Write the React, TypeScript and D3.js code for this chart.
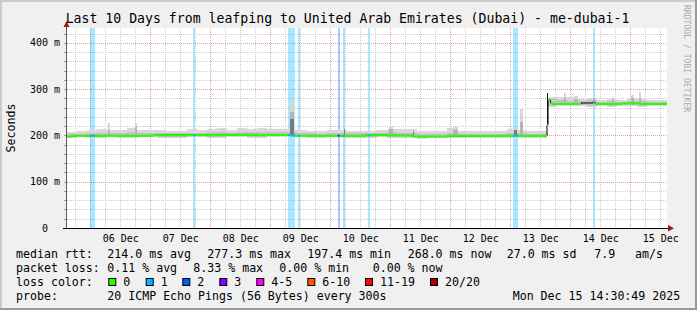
import React from 'react';
import * as d3 from 'd3';

// ---------- data ----------
const startMs = Date.UTC(2025, 11, 5, 14, 30, 49);
const endMs = Date.UTC(2025, 11, 15, 14, 30, 49);

const dayLabels = ['06 Dec', '07 Dec', '08 Dec', '09 Dec', '10 Dec', '11 Dec', '12 Dec', '13 Dec', '14 Dec', '15 Dec'];
const yTickValues = [0, 100, 200, 300, 400];
const yTickLabels = ['0', '100 m', '200 m', '300 m', '400 m'];

// smoke envelope, one value per 4 hours (60 steps)
const smokeStepHours = 4;
const smokeLo = [195, 196, 195, 195, 196, 195, 195, 196, 196, 195, 195, 195, 196, 196, 195, 195, 196, 196, 195, 195, 196, 196, 196, 196, 195, 195, 196, 195, 195, 195, 195, 196, 195, 195, 194, 193, 194, 194, 195, 195, 194, 194, 195, 195, 195, 195, 194, 194,
  262, 263, 263, 263, 262, 263, 262, 263, 263, 262, 263, 263];
const smokeMid = [204, 204, 205, 206, 206, 205, 207, 205, 206, 206, 205, 205, 206, 206, 207, 208, 206, 207, 207, 207, 207, 207, 207, 205, 205, 204, 205, 206, 205, 205, 205, 206, 207, 206, 206, 204, 204, 204, 206, 204, 204, 204, 204, 204, 205, 206, 204, 204,
  274, 276, 275, 274, 276, 273, 274, 273, 275, 274, 273, 273];
const smokeHi = [208, 210, 211, 214, 211, 211, 216, 212, 212, 212, 210, 209, 213, 211, 214, 216, 212, 215, 214, 216, 214, 214, 213, 211, 210, 209, 212, 212, 210, 210, 210, 212, 214, 213, 214, 210, 209, 209, 215, 210, 209, 209, 209, 210, 213, 211, 209, 209,
  280, 283, 282, 278, 280, 276, 278, 277, 280, 278, 277, 277];

// smoke spikes (hours from start, duration in hours, light top, mid top, dark top)
const spikeHours = [16.4, 27.2, 89.0, 110.6, 128.8, 138.2, 154.4, 178.8, 181.2, 192.0, 192.8, 198.6, 202.8, 210.4, 218.0, 225.6, 228.8];
const spikeDur = [0.6, 0.8, 1.6, 0.6, 1.6, 0.6, 2.0, 1.2, 1.2, 0.4, 3.2, 0.8, 1.6, 0.6, 0.8, 1.0, 0.8];
const spikeTop = [226, 226, 276, 216, 220, 210, 219, 215, 258, 291, 283, 291, 285, 287, 283, 287, 294];
const spikeMidTop = [212, 218, 250, 214, 214, 210, 212, 212, 229, 291, 278, 280, 279, 280, 277, 280, 280];
const spikeDarkTop = [0, 0, 235, 214, 0, 210, 0, 212, 0, 291, 0, 0, 0, 0, 0, 0, 0];

// median rtt (step), loss code: 0 green, -1 no colour
const medianHours = [0, 2, 34.8, 62, 76.4, 89.2, 109.2, 119.2, 128.4, 138.4, 152, 163.2, 171.2, 192, 192.4, 193.4, 194, 205.6, 210.4, 211.2, 222, 229.2, 240];
const medianValues = [197.5, 199.5, 200.5, 201.5, 201, 199.5, 199.5, 200.5, 200, 197.5, 199, 198.5, 199.5, 222, 277, 270, 268, 270, 272, 268, 269, 268, 268];
const medianLoss = [0, 0, 0, 0, 0, 0, 0, 0, 0, 0, 0, 0, 0, 0, 0, 0, 0, -1, 1, 0, 0, 0, 0];

// packet-loss periods
const lossStartHours = [9.2, 50.4, 88.4, 92.4, 108.2, 110.4, 120.4, 178.4, 210.4];
const lossEndHours = [11.2, 51.2, 91.2, 93.2, 109.2, 111.2, 121.2, 180.4, 211.2];
const lossLevel = [1, 1, 1, 1, 2, 1, 1, 1, 1];

const lossColors = ['#26ff00', '#00b8ff', '#0059ff', '#7e00ff', '#ff00ff', '#ff5500', '#ff0000', '#a10000'];
const lossLabels = ['0', '1', '2', '3', '4-5', '6-10', '11-19', '20/20'];

const rttItems = ['214.0 ms avg', '277.3 ms max', '197.4 ms min', '268.0 ms now', '27.0 ms sd', '7.9', 'am/s'];
const lossItems = ['0.11 % avg', '8.33 % max', '0.00 % min', '0.00 % now'];
const probeText = '20 ICMP Echo Pings (56 Bytes) every 300s';
const dateText = 'Mon Dec 15 14:30:49 2025';
const titleText = 'Last 10 Days from leafping to United Arab Emirates (Dubai) - me-dubai-1';

// ---------- layout ----------
const W = 697, H = 310;
const L = 67, R = 667, T = 28, B = 228;
const rttX = [107.3, 207.3, 307.3, 407.7, 506.7, 594.3, 635];
const lossX = [107.3, 193.3, 279.3, 372.7];
const boxX = [108.3, 145.7, 182.3, 219.3, 256.3, 307.3, 365, 430];
const MONO = '"DejaVu Sans Mono", monospace';

export default function App() {
  const x = d3.scaleUtc().domain([new Date(startMs), new Date(endMs)]).range([L, R]);
  const hx = (h: number) => x(new Date(startMs + h * 3600e3));
  const y = d3.scaleLinear().domain([0, 432]).range([B, T]);
  const crispY = (v: number) => Math.round(v) + 0.5;
  const crispX = (v: number) => Math.floor(v) + 0.5;

  const medianAt = (h: number) => {
    const i = Math.max(0, d3.bisectRight(medianHours, h) - 1);
    return medianValues[i];
  };

  // grid
  const minorH = d3.range(20, 432, 20).filter((v) => v % 100 !== 0);
  const majorH = [100, 200, 300, 400];
  const vTimes = d3.utcHour.every(6)!.range(new Date(startMs), new Date(endMs));
  const labelTimes = d3.utcDay.range(new Date(startMs), new Date(endMs)).map((d) => new Date(d.getTime() + 12 * 3600e3));

  // smoke
  const smokeIdx = d3.range(smokeHi.length + 1);
  const sv = (arr: number[], i: number) => arr[Math.min(i, arr.length - 1)];
  const outerArea = d3.area<number>()
    .x((i) => hx(i * smokeStepHours))
    .y0((i) => y(sv(smokeLo, i)))
    .y1((i) => y(sv(smokeHi, i)))
    .curve(d3.curveStepAfter);
  const midArea = d3.area<number>()
    .x((i) => hx(i * smokeStepHours))
    .y0((i) => y(sv(smokeLo, i) + 2))
    .y1((i) => y(sv(smokeMid, i)))
    .curve(d3.curveStepAfter);

  // median lines
  const medIdx = d3.range(medianHours.length);
  const blackLine = d3.line<number>()
    .x((i) => hx(medianHours[i]))
    .y((i) => y(medianValues[i]))
    .curve(d3.curveStepAfter);
  const greenSegs: string[] = [];
  for (let i = 0; i < medianHours.length - 1; i++) {
    if (medianLoss[i] === 0) {
      greenSegs.push(`M${hx(medianHours[i])},${y(medianValues[i])}H${hx(medianHours[i + 1])}`);
      if (medianLoss[i + 1] === 0 && i + 1 < medianHours.length - 1 && Math.abs(medianValues[i + 1] - medianValues[i]) < 5) {
        greenSegs.push(`M${hx(medianHours[i + 1])},${y(medianValues[i])}V${y(medianValues[i + 1])}`);
      }
    }
  }

  return (
    <svg width={W} height={H} style={{ position: 'fixed', left: 0, top: 0 }} xmlns="http://www.w3.org/2000/svg">
      <rect x={0} y={0} width={W} height={H} fill="#f0f0f0" />
      <rect x={0} y={0} width={W} height={2} fill="#cbcbcb" />
      <rect x={0} y={0} width={2} height={H} fill="#cbcbcb" />
      <rect x={0} y={H - 2} width={W} height={2} fill="#999999" />
      <rect x={W - 2} y={0} width={2} height={H} fill="#999999" />

      <rect x={L} y={T} width={R - L} height={B - T} fill="#ffffff" />

      {/* grid */}
      <g shapeRendering="crispEdges">
        {minorH.map((v) => (
          <line key={'mh' + v} x1={L} x2={R} y1={crispY(y(v))} y2={crispY(y(v))} stroke="#cdcdcd" strokeDasharray="1,1" />
        ))}
        {vTimes.filter((d) => d.getUTCHours() !== 0).map((d) => (
          <line key={'mv' + d.getTime()} x1={crispX(x(d))} x2={crispX(x(d))} y1={T} y2={B} stroke="#cdcdcd" strokeDasharray="1,1" />
        ))}
        {majorH.map((v) => (
          <line key={'Mh' + v} x1={L} x2={R} y1={crispY(y(v))} y2={crispY(y(v))} stroke="#e0a4a4" strokeDasharray="1,1" />
        ))}
        {vTimes.filter((d) => d.getUTCHours() === 0).map((d) => (
          <line key={'Mv' + d.getTime()} x1={crispX(x(d))} x2={crispX(x(d))} y1={T} y2={B} stroke="#e0a4a4" strokeDasharray="1,1" />
        ))}
      </g>

      {/* loss bars */}
      <g shapeRendering="crispEdges">
        {lossStartHours.map((s, i) => (
          <rect key={'lb' + i} x={hx(s)} y={T} width={hx(lossEndHours[i]) - hx(s)} height={B - T}
            fill={lossColors[lossLevel[i]]} fillOpacity={0.333} />
        ))}
      </g>

      {/* smoke */}
      <path d={outerArea(smokeIdx)!} fill="#d8d8d8" shapeRendering="crispEdges" />
      <path d={midArea(smokeIdx)!} fill="#c2c2c2" shapeRendering="crispEdges" />
      <g shapeRendering="crispEdges">
        {spikeHours.map((h, i) => {
          const x0 = hx(h);
          const w = Math.max(1, hx(h + spikeDur[i]) - x0);
          const base = medianAt(h);
          return (
            <g key={'sp' + i}>
              <rect x={x0} y={y(spikeTop[i])} width={w} height={y(base) - y(spikeTop[i])} fill="#d6d6d6" />
              <rect x={x0} y={y(spikeMidTop[i])} width={w} height={Math.max(0, y(base) - y(spikeMidTop[i]))} fill="#b4b4b4" />
              {spikeDarkTop[i] > 0 && (
                <rect x={x0} y={y(spikeDarkTop[i])} width={w} height={Math.max(0, y(base) - y(spikeDarkTop[i]))}
                  fill={spikeDarkTop[i] > 280 ? '#1a1a1a' : '#7a7a7a'} />
              )}
            </g>
          );
        })}
      </g>

      {/* median */}
      <path d={blackLine(medIdx)!} fill="none" stroke="#000" strokeWidth={1} />
      <path d={greenSegs.join('')} fill="none" stroke="#26ff00" strokeWidth={2} />
      {lossStartHours.map((s, i) => (
        <line key={'lm' + i} x1={hx(s)} x2={hx(lossEndHours[i])} y1={y(medianAt(s))} y2={y(medianAt(s))}
          stroke={lossColors[lossLevel[i]]} strokeWidth={2} />
      ))}

      {/* axes */}
      <g shapeRendering="crispEdges">
        {d3.range(20, 432, 20).map((v) => (
          <line key={'yt' + v} x1={64} x2={67} y1={crispY(y(v))} y2={crispY(y(v))} stroke="#9a9a9a" />
        ))}
        <line x1={66.5} x2={66.5} y1={23} y2={229} stroke="#5a5a5a" />
        <rect x={63} y={227.5} width={605} height={1.6} fill="#000" />
      </g>
      <path d="M63.5,27 L66.5,21 L69.5,27 Z" fill="#a01818" />
      <path d="M668,225 L674,228.3 L668,231.5 Z" fill="#a01818" />

      {/* y labels */}
      {yTickValues.map((v, i) => (
        <text key={'yl' + v} x={v === 0 ? 48 : 60} y={y(v) + 3.6} textAnchor="end" fontFamily={MONO} fontSize={10} fill="#000">
          {yTickLabels[i]}
        </text>
      ))}
      {/* x labels */}
      {labelTimes.map((d, i) => (
        <text key={'xl' + i} x={x(d)} y={241.5} textAnchor="middle" fontFamily={MONO} fontSize={10} fill="#000">
          {dayLabels[i]}
        </text>
      ))}

      {/* title and axis title */}
      <text x={347.5} y={23} textAnchor="middle" fontFamily={MONO} fontSize={13.2} fill="#000">{titleText}</text>
      <text transform="translate(15,128) rotate(-90)" textAnchor="middle" fontFamily={MONO} fontSize={11.6} fill="#000">Seconds</text>
      <text transform="translate(684,5) rotate(90)" textAnchor="start" fontFamily={MONO} fontSize={8.1} fill="#ababab">RRDTOOL / TOBI OETIKER</text>

      {/* legend */}
      <g fontFamily={MONO} fontSize={11.6} fill="#000">
        <text x={16} y={258}>median rtt:</text>
        {rttItems.map((t, i) => (<text key={'r' + i} x={rttX[i]} y={258}>{t}</text>))}
        <text x={16} y={272}>packet loss:</text>
        {lossItems.map((t, i) => (<text key={'p' + i} x={lossX[i]} y={272}>{t}</text>))}
        <text x={16} y={286}>loss color:</text>
        {lossColors.map((c, i) => (
          <g key={'lc' + i}>
            <rect x={boxX[i] + 0.5} y={278.5} width={7} height={7} fill={c} stroke="#000" strokeWidth={1} />
            <text x={boxX[i] + 15} y={286}>{lossLabels[i]}</text>
          </g>
        ))}
        <text x={16} y={300}>probe:</text>
        <text x={107.3} y={300}>{probeText}</text>
        <text x={512.7} y={300}>{dateText}</text>
      </g>
    </svg>
  );
}
